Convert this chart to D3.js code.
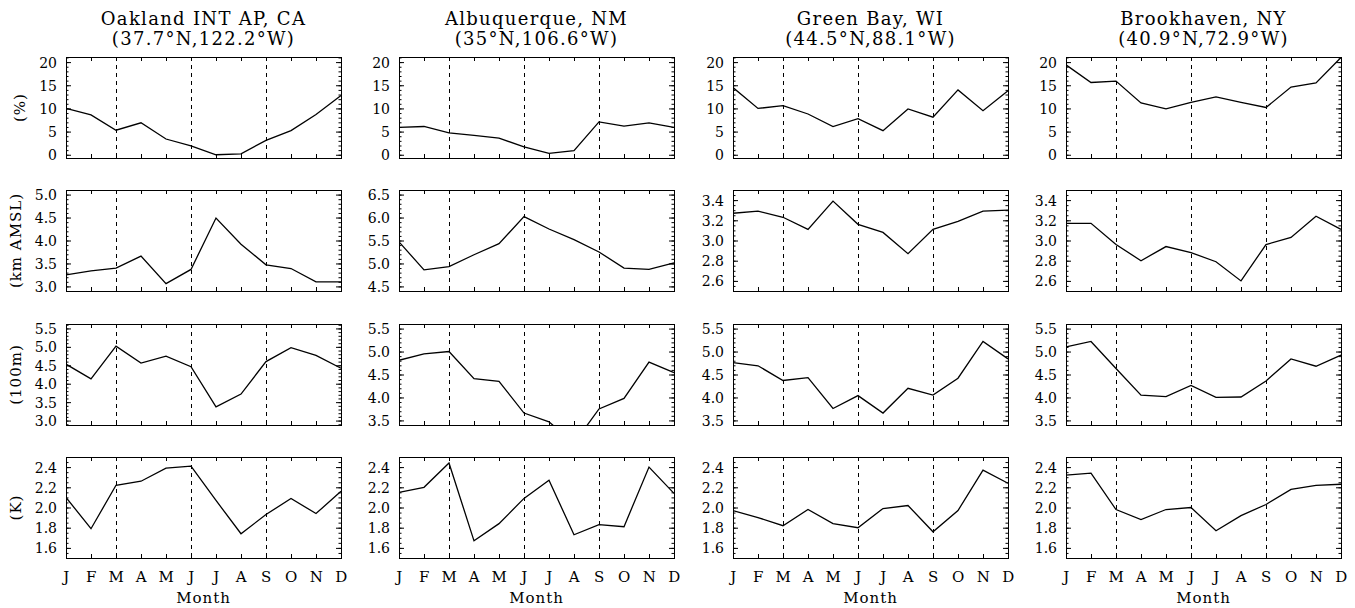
<!DOCTYPE html>
<html><head><meta charset="utf-8">
<script src="https://cdn.jsdelivr.net/npm/d3@7"></script>
<style>
body{margin:0;background:#fff}
svg{display:block}
text{font-family:"DejaVu Serif",serif;fill:#000}
</style>
</head><body>
<svg id="chart" width="1355" height="608"></svg>
<script>
// ---------- data ----------
const months = ["J","F","M","A","M","J","J","A","S","O","N","D"];
const stationNames = ["Oakland INT AP, CA","Albuquerque, NM","Green Bay, WI","Brookhaven, NY"];
const stationCoords = ["(37.7°N,122.2°W)","(35°N,106.6°W)","(44.5°N,88.1°W)","(40.9°N,72.9°W)"];
const rowUnits = ["(%)","(km AMSL)","(100m)","(K)"];
const xAxisTitle = "Month";
const dashedMonths = [2,5,8];

// row 1 : (%)
const pctOakland     = [10.0, 8.6, 5.3, 6.9, 3.4, 1.9, 0.0, 0.2, 3.1, 5.2, 8.7, 12.8];
const pctAlbuquerque = [5.9, 6.1, 4.7, 4.2, 3.6, 1.7, 0.3, 0.9, 7.1, 6.2, 6.9, 5.9];
const pctGreenBay    = [14.5, 10.0, 10.6, 8.8, 6.1, 7.8, 5.2, 9.9, 8.1, 14.0, 9.5, 13.8];
const pctBrookhaven  = [19.4, 15.6, 15.9, 11.2, 9.9, 11.3, 12.5, 11.3, 10.2, 14.6, 15.5, 21.0];
// row 2 : (km AMSL)
const kmOakland      = [3.25, 3.34, 3.40, 3.66, 3.06, 3.37, 4.49, 3.92, 3.47, 3.39, 3.10, 3.10];
const kmAlbuquerque  = [5.47, 4.86, 4.93, 5.19, 5.43, 6.02, 5.75, 5.52, 5.25, 4.90, 4.87, 5.01];
const kmGreenBay     = [3.27, 3.29, 3.23, 3.11, 3.39, 3.16, 3.08, 2.87, 3.11, 3.19, 3.29, 3.30];
const kmBrookhaven   = [3.17, 3.17, 2.96, 2.80, 2.94, 2.88, 2.79, 2.60, 2.96, 3.03, 3.24, 3.11];
// row 3 : (100m)
const hmOakland      = [4.53, 4.13, 5.02, 4.56, 4.75, 4.46, 3.37, 3.72, 4.60, 4.98, 4.77, 4.42];
const hmAlbuquerque  = [4.81, 4.95, 5.00, 4.41, 4.35, 3.66, 3.47, 3.00, 3.75, 3.98, 4.77, 4.54];
const hmGreenBay     = [4.76, 4.69, 4.37, 4.43, 3.76, 4.04, 3.66, 4.20, 4.05, 4.42, 5.22, 4.84];
const hmBrookhaven   = [5.10, 5.22, 4.63, 4.05, 4.02, 4.26, 4.00, 4.01, 4.36, 4.84, 4.68, 4.92];
// row 4 : (K)
const kOakland       = [2.10, 1.79, 2.22, 2.26, 2.39, 2.41, 2.07, 1.74, 1.93, 2.09, 1.94, 2.16];
const kAlbuquerque   = [2.15, 2.20, 2.44, 1.67, 1.84, 2.09, 2.27, 1.73, 1.83, 1.81, 2.40, 2.14];
const kGreenBay      = [1.97, 1.90, 1.82, 1.98, 1.84, 1.80, 1.99, 2.02, 1.76, 1.97, 2.37, 2.24];
const kBrookhaven    = [2.32, 2.34, 1.98, 1.88, 1.98, 2.00, 1.77, 1.92, 2.03, 2.18, 2.22, 2.23];

// y axis ranges and tick labels: [row][col]
const yDomains = [
  [[-0.7,21.1],[-0.7,21.1],[-0.7,21.1],[-0.7,21.1]],
  [[2.9,5.1],[4.4,6.6],[2.5,3.5],[2.5,3.5]],
  [[2.88,5.62],[3.4,5.6],[3.4,5.6],[3.4,5.6]],
  [[1.5,2.5],[1.5,2.5],[1.5,2.5],[1.5,2.5]]
];
const ticksPct   = [0,5,10,15,20];
const ticksKm1   = [3.0,3.5,4.0,4.5,5.0];
const ticksKm2   = [4.5,5.0,5.5,6.0,6.5];
const ticksKm3   = [2.6,2.8,3.0,3.2,3.4];
const ticksHm1   = [3.0,3.5,4.0,4.5,5.0,5.5];
const ticksHm2   = [3.5,4.0,4.5,5.0,5.5];
const ticksK     = [1.6,1.8,2.0,2.2,2.4];
const yTicks = [
  [ticksPct,ticksPct,ticksPct,ticksPct],
  [ticksKm1,ticksKm2,ticksKm3,ticksKm3],
  [ticksHm1,ticksHm2,ticksHm2,ticksHm2],
  [ticksK,ticksK,ticksK,ticksK]
];
const minorSteps = [[1,1,1,1],[0.1,0.1,0.05,0.05],[0.1,0.1,0.1,0.1],[0.05,0.05,0.05,0.05]];
const series = [
  [pctOakland,pctAlbuquerque,pctGreenBay,pctBrookhaven],
  [kmOakland,kmAlbuquerque,kmGreenBay,kmBrookhaven],
  [hmOakland,hmAlbuquerque,hmGreenBay,hmBrookhaven],
  [kOakland,kAlbuquerque,kGreenBay,kBrookhaven]
];

// ---------- layout ----------
const svg = d3.select("#chart");
const W = 275, H = 101;
const colLeft = c => Math.round(66 + c*333.33);
const rowTop  = r => Math.round(57 + r*133.33);

series.forEach((rowSeries, r) => {
  rowSeries.forEach((vals, c) => {
    const L = colLeft(c), T = rowTop(r);
    const x = d3.scaleLinear().domain([0,11]).range([L, L+W]);
    const y = d3.scaleLinear().domain(yDomains[r][c]).range([T+H, T]);
    const g = svg.append("g");
    const clipId = `clip-${r}-${c}`;
    g.append("clipPath").attr("id", clipId)
      .append("rect").attr("x", L).attr("y", T).attr("width", W+1).attr("height", H+1);

    // dashed month guides
    g.selectAll("line.guide").data(dashedMonths).join("line")
      .attr("x1", d => Math.round(x(d))+0.5).attr("x2", d => Math.round(x(d))+0.5)
      .attr("y1", T).attr("y2", T+H)
      .attr("stroke","#000").attr("stroke-width",1).attr("stroke-dasharray","4,4");

    // data line
    g.append("path").datum(vals)
      .attr("clip-path", `url(#${clipId})`)
      .attr("fill","none").attr("stroke","#000").attr("stroke-width",1.3)
      .attr("stroke-linejoin","miter")
      .attr("d", d3.line().x((d,i)=>x(i)).y(d=>y(d)));

    // minor ticks
    const [d0,d1] = yDomains[r][c];
    const step = minorSteps[r][c];
    const minor = d3.range(Math.ceil(d0/step - 1e-6), Math.floor(d1/step + 1e-6)+1).map(k => +(k*step).toFixed(4));
    const yAxisMinorL = d3.axisLeft(y).tickValues(minor).tickSize(-2.5).tickFormat("");
    const yAxisMinorR = d3.axisRight(y).tickValues(minor).tickSize(-2.5).tickFormat("");
    const fmt = r === 0 ? d3.format("d") : d3.format(".1f");
    const yAxisL = d3.axisLeft(y).tickValues(yTicks[r][c]).tickSize(-5).tickPadding(9).tickFormat(fmt);
    const yAxisR = d3.axisRight(y).tickValues(yTicks[r][c]).tickSize(-5).tickFormat("");
    const xAxisB = d3.axisBottom(x).tickValues(d3.range(12)).tickSize(-4).tickPadding(13)
      .tickFormat(r === 3 ? (i => months[i]) : "");
    const xAxisT = d3.axisTop(x).tickValues(d3.range(12)).tickSize(-4).tickFormat("");

    const add = (axis, tx, ty, cls) => {
      const a = g.append("g").attr("class", cls).attr("transform", `translate(${tx},${ty})`).call(axis);
      a.select(".domain").remove();
      a.selectAll("line").attr("stroke","#000");
      a.selectAll("text").attr("fill","#000").style("font-family","DejaVu Serif").attr("font-size", null);
      return a;
    };
    add(yAxisMinorL, L, 0, "ymin");
    add(yAxisMinorR, L+W, 0, "ymin");
    const ya = add(yAxisL, L, 0, "ylab");
    ya.selectAll("text").style("font-size","14px").attr("dy","0.36em");
    add(yAxisR, L+W, 0, "yr");
    const xb = add(xAxisB, 0, T+H, "xb");
    xb.selectAll("text").style("font-size","15px").style("letter-spacing","0.5px");
    add(xAxisT, 0, T, "xt");

    // frame
    g.append("rect").attr("x", L+0.5).attr("y", T+0.5).attr("width", W).attr("height", H)
      .attr("fill","none").attr("stroke","#000").attr("stroke-width",1);

    // y unit label (first column)
    if (c === 0) {
      let minX = L;
      ya.selectAll("text").each(function(){ const b = this.getBBox(); minX = Math.min(minX, L + b.x); });
      svg.append("text")
        .attr("transform", `translate(${minX - 14},${T + H/2}) rotate(-90)`)
        .attr("text-anchor","middle")
        .style("font-size","15px").style("letter-spacing","1px")
        .text(rowUnits[r]);
    }
    // titles
    if (r === 0) {
      svg.append("text").attr("x", L + W/2).attr("y", 25).attr("text-anchor","middle")
        .style("font-size","18px").style("letter-spacing","1.3px").text(stationNames[c]);
      svg.append("text").attr("x", L + W/2).attr("y", 45).attr("text-anchor","middle")
        .style("font-size","18px").style("letter-spacing","1.3px").text(stationCoords[c]);
    }
    if (r === 3) {
      svg.append("text").attr("x", L + W/2).attr("y", 603).attr("text-anchor","middle")
        .style("font-size","15px").style("letter-spacing","1px").text(xAxisTitle);
    }
  });
});
</script>
</body></html>
